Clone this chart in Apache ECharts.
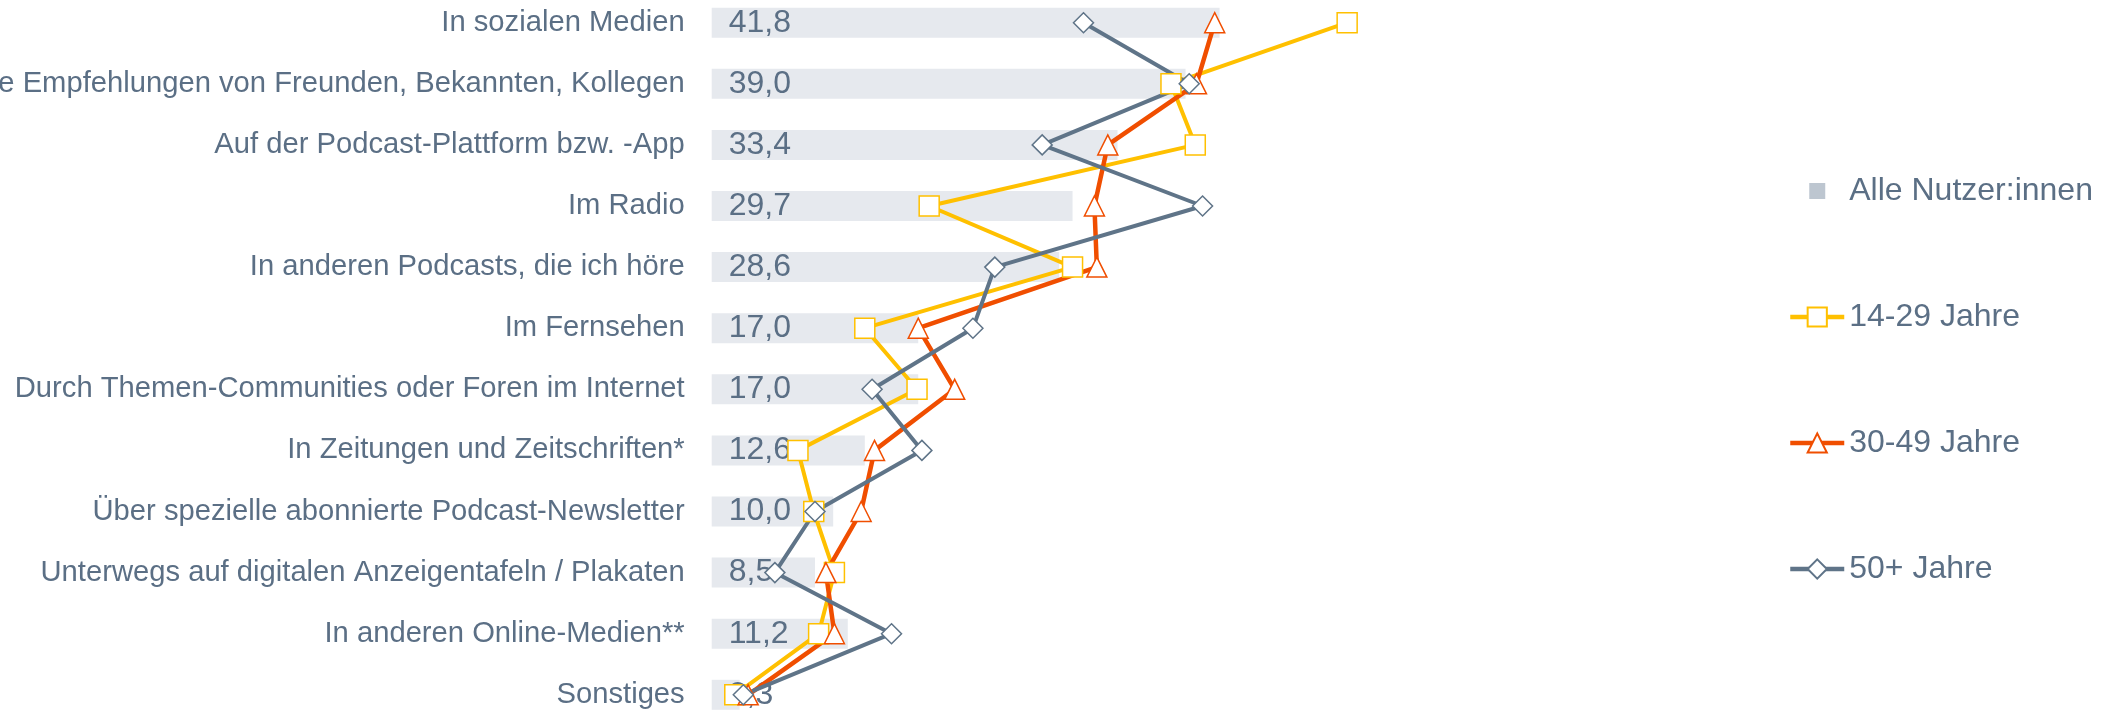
<!DOCTYPE html>
<html>
<head>
<meta charset="utf-8">
<script src="https://cdn.jsdelivr.net/npm/echarts@6.0.0/dist/echarts.min.js"></script>
<style>
    html, body { margin: 0; padding: 0; background: #fff; }
    #chart { width: 2113px; height: 711px; }
</style>
</head>
<body>
<div id="chart"></div>
<script>
const categories = [
    'In sozialen Medien',
    'Durch persönliche Empfehlungen von Freunden, Bekannten, Kollegen',
    'Auf der Podcast-Plattform bzw. -App',
    'Im Radio',
    'In anderen Podcasts, die ich höre',
    'Im Fernsehen',
    'Durch Themen-Communities oder Foren im Internet',
    'In Zeitungen und Zeitschriften*',
    'Über spezielle abonnierte Podcast-Newsletter',
    'Unterwegs auf digitalen Anzeigentafeln / Plakaten',
    'In anderen Online-Medien**',
    'Sonstiges'
];
const alleNutzer = [41.8, 39.0, 33.4, 29.7, 28.6, 17.0, 17.0, 12.6, 10.0, 8.5, 11.2, 2.3];
const jahre14bis29 = [52.3, 37.8, 39.8, 17.9, 29.7, 12.6, 16.9, 7.1, 8.4, 10.1, 8.8, 1.9];
const jahre30bis49 = [41.4, 39.9, 32.6, 31.5, 31.7, 17.0, 20.0, 13.4, 12.3, 9.4, 10.1, 3.0];
const jahre50plus = [30.6, 39.3, 27.2, 40.4, 23.3, 21.5, 13.2, 17.3, 8.5, 5.2, 14.8, 2.6];

const textColor = '#5b6f85';
const font = 'Liberation Sans, Arial, sans-serif';

let myChart = echarts.init(document.getElementById('chart'));

// line series share most settings
function lineSeries(name, data, color, symbol, width) {
    return {
        name: name,
        type: 'line',
        data: data,
        z: 3,
        symbol: symbol,
        symbolSize: 20,
        lineStyle: { color: color, width: width },
        itemStyle: { color: '#fff', borderColor: color, borderWidth: 1.5 }
    };
}

let option = {
    animation: false,
    textStyle: { fontFamily: font },
    grid: {
        left: 711.7,
        right: 672.3,
        top: -7.85,
        bottom: -14.35,
        containLabel: false,
        outerBoundsMode: 'none'
    },
    legend: {
        orient: 'vertical',
        left: 1783,
        top: 170,
        itemWidth: 54,
        itemHeight: 24,
        itemGap: 94,
        symbolKeepAspect: true,
        lineStyle: { width: 4.5 },
        textStyle: { fontSize: 32, color: textColor, fontFamily: font },
        data: [
            {
                name: 'Alle Nutzer:innen',
                icon: 'path://M0,0M24,24M4,4L20,4L20,20L4,20Z',
                itemStyle: { color: '#bdc6d0' }
            },
            '14-29 Jahre',
            '30-49 Jahre',
            '50+ Jahre'
        ]
    },
    xAxis: {
        type: 'value',
        min: 0,
        max: 60,
        show: false
    },
    yAxis: {
        type: 'category',
        data: categories,
        inverse: true,
        axisLine: { show: false },
        axisTick: { show: false },
        splitLine: { show: false },
        axisLabel: {
            margin: 27,
            fontSize: 29.2,
            color: textColor,
            fontFamily: font
        }
    },
    series: [
        {
            name: 'Alle Nutzer:innen',
            type: 'bar',
            data: alleNutzer,
            barWidth: 30,
            itemStyle: { color: '#e6e9ee' },
            label: {
                show: true,
                position: 'insideLeft',
                distance: 17,
                fontSize: 32,
                color: textColor,
                fontFamily: font,
                formatter: (p) => p.value.toFixed(1).replace('.', ',')
            }
        },
        lineSeries('14-29 Jahre', jahre14bis29, '#ffc000', 'rect', 4),
        lineSeries('30-49 Jahre', jahre30bis49, '#f04e00', 'triangle', 4.5),
        lineSeries('50+ Jahre', jahre50plus, '#5f7488', 'diamond', 4)
    ]
};

myChart.setOption(option);
</script>
</body>
</html>
